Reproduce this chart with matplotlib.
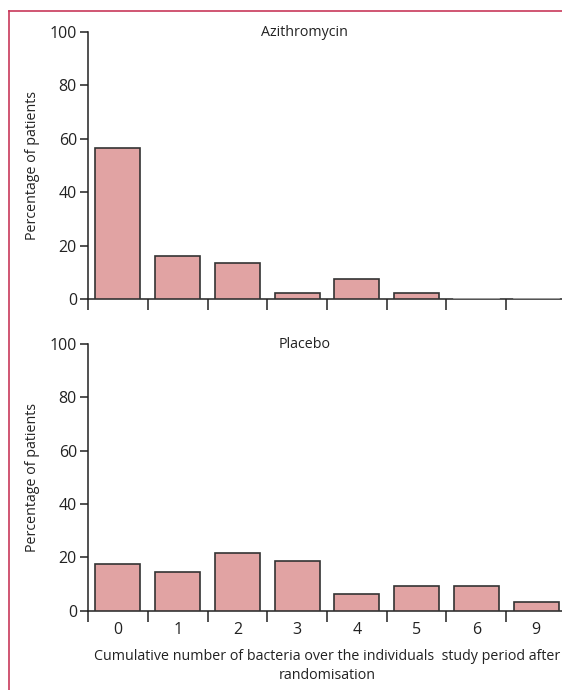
import numpy as np
import matplotlib.pyplot as plt
from matplotlib.lines import Line2D

plt.rcParams['font.family'] = ['Open Sans', 'DejaVu Sans']

categories = ['0', '1', '2', '3', '4', '5', '6', '9']
azithromycin = [56.6, 16.2, 13.7, 2.5, 7.7, 2.5, 0, 0]
placebo = [17.5, 14.4, 21.6, 18.5, 6.25, 9.4, 9.4, 3.1]
yticks = [0, 20, 40, 60, 80, 100]

bar_color = '#e1a3a3'
edge_color = '#333333'
spine_color = '#222222'
fs = 10.3
tfs = 11.5

fig = plt.figure(figsize=(5.62, 6.9), dpi=100)
ax1 = fig.add_axes([0.1566, 0.5662, 0.8505, 0.3874])
ax2 = fig.add_axes([0.1566, 0.1149, 0.8505, 0.3865])

centers = np.arange(len(categories)) + 0.5
edges = np.arange(len(categories))

for ax, vals, title, show_labels in [(ax1, azithromycin, 'Azithromycin', False),
                                      (ax2, placebo, 'Placebo', True)]:
    for c, v in zip(centers, vals):
        if v > 0:
            ax.bar(c, v, width=0.75, color=bar_color, edgecolor=edge_color,
                   linewidth=1.2, zorder=2)
        else:
            ax.plot([c - 0.375, c + 0.375], [0, 0], color='#aaaaaa', lw=1.2, zorder=3)
    ax.set_xlim(0, len(categories))
    ax.set_ylim(0, 100)
    for s in ['top', 'right']:
        ax.spines[s].set_visible(False)
    ax.spines['left'].set_color(spine_color)
    ax.spines['bottom'].set_color(spine_color)
    ax.spines['left'].set_linewidth(1.1)
    ax.spines['bottom'].set_linewidth(1.1)
    ax.spines['bottom'].set_zorder(1)
    ax.set_yticks(yticks)
    ax.tick_params(axis='y', length=6, width=1.1, color=spine_color, labelsize=tfs,
                   pad=2, labelcolor='#222222')
    ax.set_xticks(edges)
    ax.set_xticklabels([])
    ax.tick_params(axis='x', which='major', length=8, width=1.1, color=spine_color)
    ax.set_xticks(centers, minor=True)
    if show_labels:
        ax.set_xticklabels(categories, minor=True)
    ax.tick_params(axis='x', which='minor', length=0, labelsize=tfs, pad=8,
                   labelcolor='#222222')
    ax.set_ylabel('Percentage of patients', fontsize=fs, color='#222222')
    ax.yaxis.set_label_coords(-0.10, 0.5)
    ax.text(3.63, 100, title, ha='center', va='center', fontsize=fs, color='#222222')

ax2.set_xlabel('Cumulative number of bacteria over the individuals  study period after\nrandomisation',
               fontsize=fs, color='#222222', linespacing=1.3)
ax2.xaxis.set_label_coords(0.5 * 474 / 478 + 0.005, -0.145)
ax2.xaxis.label.set_va('top')

# frame lines of the panel (left and top)
fig.add_artist(Line2D([9 / 562, 9 / 562], [0, 1 - 11 / 690], color='#c8385a', lw=1.2))
fig.add_artist(Line2D([9 / 562, 1], [1 - 11 / 690, 1 - 11 / 690], color='#c8385a', lw=1.2))

fig.savefig('out.png', dpi=100)
